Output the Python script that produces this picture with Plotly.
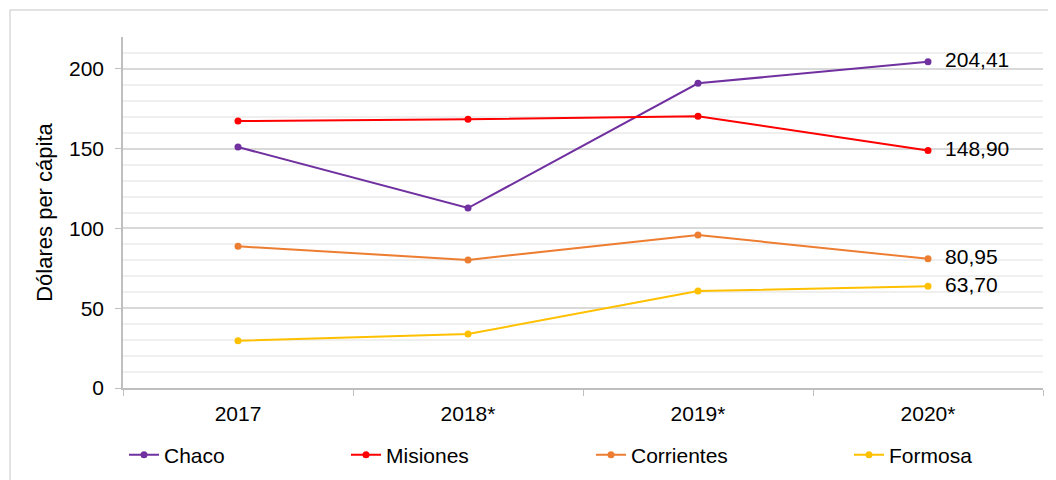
import plotly.graph_objects as go

years = ["2017", "2018*", "2019*", "2020*"]
chaco = [151.0, 112.8, 191.0, 204.41]
misiones = [167.3, 168.5, 170.3, 148.90]
corrientes = [88.8, 80.3, 95.9, 80.95]
formosa = [29.6, 33.8, 60.8, 63.70]
series_names = ["Chaco", "Misiones", "Corrientes", "Formosa"]
series_values = [chaco, misiones, corrientes, formosa]
colors = ["#7030A0", "#FF0000", "#ED7D31", "#FFC000"]
last_labels = ["204,41", "148,90", "80,95", "63,70"]

FONT = "Liberation Sans, Arial, sans-serif"

# page is rendered with an 8px body margin -> figure coords = page coords - 8
OFF = 8
W, H = 1056 - OFF, 480 - OFF
L, T = 123 - OFF, 37 - OFF
plot_right, plot_bottom = 1043 - OFF, 388 - OFF
R, B = W - plot_right, H - plot_bottom
pw, ph = W - L - R, H - T - B

legend_ids = ["legend", "legend2", "legend3", "legend4"]
legend_marker_page = [138, 360, 605, 863]

fig = go.Figure()
for name, vals, col, lab, lid in zip(series_names, series_values, colors, last_labels, legend_ids):
    txt = [""] * (len(vals) - 1) + ["  " + lab]
    fig.add_trace(go.Scatter(
        x=years, y=vals, name=name, legend=lid,
        mode="lines+markers+text",
        text=txt, textposition="middle right",
        textfont=dict(family=FONT, size=21, color="#000000"),
        line=dict(color=col, width=2),
        marker=dict(color=col, size=7),
        cliponaxis=False,
    ))

fig.add_shape(type="rect", xref="paper", yref="paper",
              x0=(10 - OFF - L) / pw, x1=(1080 - L) / pw,
              y0=(plot_bottom - 520) / ph, y1=(plot_bottom - (10 - OFF)) / ph,
              line=dict(color="#d9d9d9", width=1.5), fillcolor="rgba(0,0,0,0)", layer="below")

legend_common = dict(orientation="h", yanchor="middle", xanchor="left",
                     font=dict(family=FONT, size=21), bgcolor="rgba(0,0,0,0)")
legend_layout = {}
for lid, mp in zip(legend_ids, legend_marker_page):
    fx = mp - 14 - OFF
    legend_layout[lid] = dict(legend_common, x=(fx - L) / pw, y=(plot_bottom - (455 - OFF)) / ph)

fig.update_layout(
    width=W, height=H,
    margin=dict(l=L, r=R, t=T, b=B, autoexpand=False),
    paper_bgcolor="white", plot_bgcolor="white",
    font=dict(family=FONT, size=21, color="#000000"),
    showlegend=True,
    xaxis=dict(type="category", showgrid=False, showline=True, linecolor="#bfbfbf", linewidth=1.5,
               ticks="outside", tickson="boundaries", ticklen=6, tickcolor="#bfbfbf",
               tickfont=dict(size=21), range=[-0.5, 3.5], automargin=False, ticklabelstandoff=6),
    yaxis=dict(range=[0, 220], dtick=50, tick0=0, showgrid=True, gridcolor="#d9d9d9", gridwidth=1.5,
               showline=True, linecolor="#bfbfbf", linewidth=1.5, ticks="outside", ticklen=6,
               tickcolor="#bfbfbf", tickfont=dict(size=21), zeroline=False, automargin=False,
               ticklabelstandoff=7,
               title=dict(text="Dólares per cápita", font=dict(size=22), standoff=10),
               minor=dict(dtick=10, showgrid=True, gridcolor="#efefef", gridwidth=1.5)),
    **legend_layout,
)

fig.write_html("out.html")
